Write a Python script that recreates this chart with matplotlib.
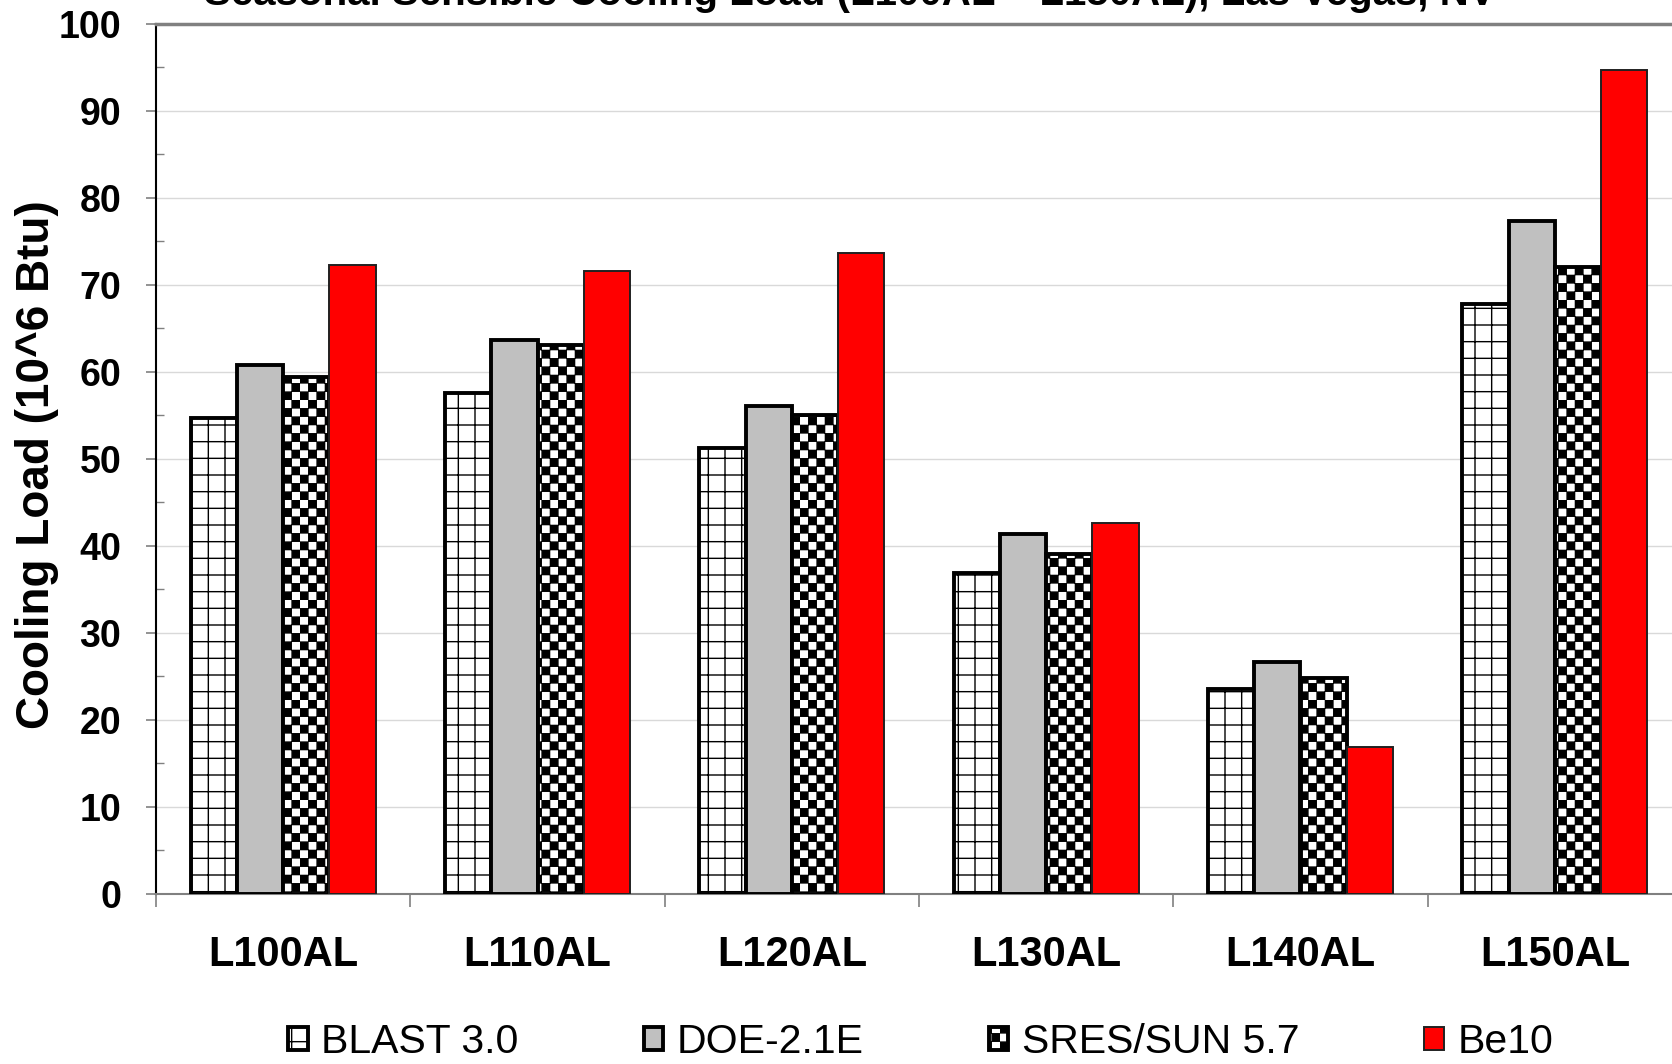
import warnings
import numpy as np
import matplotlib
matplotlib.use("Agg")
import matplotlib.pyplot as plt
import matplotlib.hatch as mhatch
from matplotlib.path import Path
from matplotlib.ticker import MultipleLocator, FixedLocator, NullFormatter

warnings.filterwarnings("ignore")

# datos del grafico
cases = ["L100AL", "L110AL", "L120AL", "L130AL", "L140AL", "L150AL"]
programs = ["BLAST 3.0", "DOE-2.1E", "SRES/SUN 5.7", "Be10"]
blast = [54.7, 57.6, 51.2, 36.9, 23.5, 67.8]
doe = [60.8, 63.7, 56.1, 41.3, 26.6, 77.3]
sres = [59.4, 63.1, 55.0, 39.0, 24.8, 72.1]
be10 = [72.3, 71.6, 73.7, 42.6, 16.8, 94.7]
title = "Seasonal Sensible Cooling Load (L100AL \u2013 L150AL), Las Vegas, NV"
ylabel = "Cooling Load (10^6 Btu)"


# patron de tablero de ajedrez (matplotlib no lo trae)
class Checker(mhatch.HatchPatternBase):
    def __init__(self, hatch, density):
        self.n = hatch.count('c') * 12
        self.num_vertices = (self.n * self.n // 2) * 5

    def set_vertices_and_codes(self, vertices, codes):
        step = 1.0 / self.n
        k = 0.004
        sq = np.array([[k, k], [step - k, k], [step - k, step - k], [k, step - k], [k, k]])
        cod = [Path.MOVETO, Path.LINETO, Path.LINETO, Path.LINETO, Path.CLOSEPOLY]
        i = 0
        for r in range(self.n):
            for c in range(self.n):
                if (r + c) % 2 == 0:
                    vertices[i:i + 5] = sq + [c * step, r * step]
                    codes[i:i + 5] = cod
                    i += 5


mhatch._hatch_types.append(Checker)

plt.rcParams['font.family'] = ['Liberation Sans', 'DejaVu Sans']
plt.rcParams['hatch.linewidth'] = 1.0

fig = plt.figure(figsize=(16.72, 10.64), dpi=100)
ax = fig.add_axes([156 / 1672, 170.5 / 1064, 1526 / 1672, 869.5 / 1064])

x = np.arange(len(cases))
w = 0.182
series = [blast, doe, sres, be10]
faces = ["white", "#c0c0c0", "white", "#ff0000"]
hatches = ["+", None, "c", None]
edges = ["black", "black", "black", "#202020"]
lws = [2.8, 2.8, 2.8, 1.4]

bars = []
for j, vals in enumerate(series):
    b = ax.bar(x + (j - 1.5) * w, vals, w, color=faces[j], edgecolor=edges[j],
               linewidth=lws[j], hatch=hatches[j], label=programs[j], zorder=3)
    bars.append(b)

ax.set_xlim(-0.5, len(cases) - 0.5)
ax.set_ylim(0, 100)
ax.set_axisbelow(True)
ax.grid(axis='y', color='#d9d9d9', linewidth=1.0)

ax.yaxis.set_major_locator(MultipleLocator(10))
ax.yaxis.set_minor_locator(MultipleLocator(5))
ax.tick_params(axis='y', which='major', direction='out', length=7, width=1.2,
               color='#808080', labelsize=27, pad=18)
ax.tick_params(axis='y', which='minor', direction='in', length=6, width=1.0,
               color='#808080')
for t in ax.get_yticklabels():
    t.set_fontweight('bold')

# divisiones entre casos y etiquetas centradas
ax.xaxis.set_major_locator(FixedLocator(np.arange(len(cases) + 1) - 0.5))
ax.xaxis.set_major_formatter(NullFormatter())
ax.xaxis.set_minor_locator(FixedLocator(x))
ax.set_xticklabels(cases, minor=True, fontsize=30, fontweight='bold')
ax.tick_params(axis='x', which='major', direction='out', length=9, width=1.2,
               color='#808080')
ax.tick_params(axis='x', which='minor', length=0, pad=30)

ax.spines['left'].set_color('black')
ax.spines['left'].set_linewidth(1.5)
ax.spines['bottom'].set_color('#808080')
ax.spines['bottom'].set_linewidth(1.5)
ax.spines['top'].set_color('#808080')
ax.spines['top'].set_linewidth(2.5)
ax.spines['right'].set_visible(False)

fig.text(37 / 1672, 1 - 465 / 1064, ylabel, rotation=90,
         ha='center', va='center', fontsize=33, fontweight='bold')
# el titulo queda cortado arriba, como en el original
fig.text(850 / 1672, 1 - 5 / 1064, title, ha='center', va='baseline',
         fontsize=29, fontweight='bold')

fig.legend(handles=bars, labels=programs, loc='center left',
           bbox_to_anchor=(288 / 1672, 1 - 1042 / 1064), ncol=4, frameon=False,
           fontsize=29.5, borderpad=0, borderaxespad=0, handlelength=0.48,
           handleheight=0.48, handletextpad=0.33, columnspacing=3.05)

fig.savefig("out.png", dpi=100)
